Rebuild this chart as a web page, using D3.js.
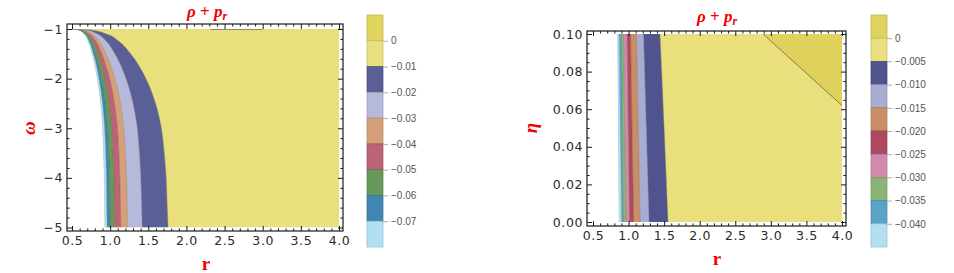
<!DOCTYPE html>
<html><head><meta charset="utf-8">
<script src="https://cdn.jsdelivr.net/npm/d3@7"></script>
<style>body{margin:0;background:#fff}svg{display:block}</style>
</head><body><svg id="c" width="954" height="273"></svg>
<script>
// ---------------- LEFT PANEL: ρ + p_r over (r, ω) ----------------
const leftOmega = [-1, -1.02, -1.1, -1.25, -1.5, -2, -2.5, -3, -3.5, -4, -4.5, -5];
// contour boundaries (r values at each ω), from left (most negative) to right
const leftB0 = [0.5, 0.586, 0.655, 0.711, 0.762, 0.831, 0.874, 0.900, 0.913, 0.921, 0.926, 0.93];
const leftB1 = [0.5, 0.592, 0.666, 0.725, 0.781, 0.854, 0.900, 0.928, 0.942, 0.951, 0.955, 0.96];
const leftB2 = [0.5, 0.600, 0.680, 0.745, 0.805, 0.885, 0.935, 0.965, 0.980, 0.990, 0.995, 1.00];
const leftB3 = [0.5, 0.612, 0.702, 0.774, 0.842, 0.931, 0.987, 1.021, 1.038, 1.049, 1.054, 1.06];
const leftB4 = [0.5, 0.628, 0.730, 0.814, 0.890, 0.993, 1.057, 1.095, 1.114, 1.127, 1.134, 1.14];
const leftB5 = [0.5, 0.646, 0.763, 0.858, 0.945, 1.062, 1.135, 1.179, 1.201, 1.215, 1.223, 1.23];
const leftB6 = [0.5, 0.684, 0.831, 0.951, 1.061, 1.208, 1.300, 1.356, 1.383, 1.402, 1.411, 1.42];
const leftB7 = [0.5, 0.752, 0.954, 1.117, 1.269, 1.470, 1.596, 1.672, 1.710, 1.735, 1.747, 1.76];
const leftZeroLine = [[2.31, -1], [3.0, -1]];
const leftLevels = [0, -0.01, -0.02, -0.03, -0.04, -0.05, -0.06, -0.07];
// colours of bands, top of legend (highest) to bottom
const leftColors = ["#E0D35E", "#E9DF7D", "#5B5F98", "#B7B9DB", "#D4A07A", "#BC6378", "#66985A", "#3F86B3", "#B1E0F3"];
const leftXTicks = [0.5, 1.0, 1.5, 2.0, 2.5, 3.0, 3.5, 4.0];
const leftYTicks = [-1, -2, -3, -4, -5];

// ---------------- RIGHT PANEL: ρ + p_r over (r, η) ----------------
const rightEta = [0, 0.05, 0.1];
const rightB0 = [0.866, 0.855, 0.845];
const rightB1 = [0.901, 0.883, 0.866];
const rightB2 = [0.922, 0.911, 0.901];
const rightB3 = [0.964, 0.946, 0.929];
const rightB4 = [1.013, 0.995, 0.978];
const rightB5 = [1.070, 1.048, 1.027];
const rightB6 = [1.161, 1.136, 1.112];
const rightB7 = [1.288, 1.249, 1.210];
const rightB8 = [1.555, 1.500, 1.442];
const rightZeroContour = [[2.89, 0.1], [4.0, 0.062]];
const rightLevels = [0, -0.005, -0.010, -0.015, -0.020, -0.025, -0.030, -0.035, -0.040];
const rightColors = ["#E0D25E", "#E9DF7D", "#4F548F", "#A9ACD2", "#C98E68", "#AE4A60", "#D08AAB", "#8AB475", "#5AA2C8", "#B3DFF2"];
const rightXTicks = [0.5, 1.0, 1.5, 2.0, 2.5, 3.0, 3.5, 4.0];
const rightYTicks = [0, 0.02, 0.04, 0.06, 0.08, 0.10];

const svg = d3.select("#c");
const RED = "#F20000";

function drawPanel(o) {
  const g = svg.append("g");
  const x = d3.scaleLinear().domain(o.xDomain).range(o.xRange);
  const y = d3.scaleLinear().domain(o.yDomain).range(o.yRange);
  const [fx0, fx1, fy0, fy1] = o.frame;
  const clipId = "clip" + o.id;
  svg.append("clipPath").attr("id", clipId).append("rect")
    .attr("x", x(o.xDomain[0])).attr("y", Math.min(y(o.yDomain[0]), y(o.yDomain[1])))
    .attr("width", x(o.xDomain[1]) - x(o.xDomain[0]))
    .attr("height", Math.abs(y(o.yDomain[1]) - y(o.yDomain[0])));
  const plot = g.append("g").attr("clip-path", `url(#${clipId})`);
  // base region (light yellow)
  plot.append("rect")
    .attr("x", x(o.xDomain[0])).attr("y", Math.min(y(o.yDomain[0]), y(o.yDomain[1])))
    .attr("width", x(o.xDomain[1]) - x(o.xDomain[0]))
    .attr("height", Math.abs(y(o.yDomain[1]) - y(o.yDomain[0])))
    .attr("fill", o.baseColor);
  if (o.extra) o.extra(plot, x, y);
  const B = o.bounds;
  const rows = o.ys.map((v, i) => ({v, i}));
  const mk = (a, b) => d3.area().curve(d3.curveMonotoneY)
      .y(d => y(d.v)).x0(d => x(a(d.i))).x1(d => x(b(d.i)));
  // white region left of first boundary
  plot.append("path").datum(rows)
    .attr("d", mk(() => o.xDomain[0], i => B[0][i]))
    .attr("fill", "#fff");
  for (let k = 0; k < B.length - 1; k++) {
    plot.append("path").datum(rows)
      .attr("d", mk(i => B[k][i], i => B[k + 1][i]))
      .attr("fill", o.bandColors[k]);
  }
  // contour lines
  const line = d3.line().curve(d3.curveMonotoneY);
  B.forEach((b, k) => {
    plot.append("path")
      .attr("d", line(o.ys.map((v, i) => [x(b[i]), y(v)])))
      .attr("fill", "none")
      .attr("stroke", k === B.length - 1 ? "#9a9360" : d3.color(o.bandColors[Math.max(0,k-1)]).darker(0.8))
      .attr("stroke-width", 0.6).attr("stroke-opacity", k === 0 ? 0.3 : 0.7);
  });
  if (o.extraTop) o.extraTop(plot, x, y);

  // frame
  g.append("rect").attr("x", fx0).attr("y", fy0).attr("width", fx1 - fx0).attr("height", fy1 - fy0)
    .attr("fill", "none").attr("stroke", "#1a1a1a").attr("stroke-width", 1.2);

  const majorLen = 5, minorLen = 2.6;
  const styleAxis = sel => {
    sel.select(".domain").remove();
    sel.selectAll("line").attr("stroke", "#1a1a1a").attr("stroke-width", 1);
    sel.selectAll("text").attr("font-family", "DejaVu Sans, sans-serif")
      .attr("font-size", 12.5).attr("fill", "#2a2a2a").attr("letter-spacing", 0.6);
  };
  const xMinor = d3.range(Math.round(o.xDomain[0] / o.xMinor), Math.round(o.xDomain[1] / o.xMinor) + 1)
    .map(k => +(k * o.xMinor).toFixed(4)).filter(v => !o.xTicks.some(t => Math.abs(t - v) < 1e-6));
  const yLo = Math.min(...o.yDomain), yHi = Math.max(...o.yDomain);
  const yMinor = d3.range(Math.round(yLo / o.yMinor), Math.round(yHi / o.yMinor) + 1)
    .map(k => +(k * o.yMinor).toFixed(4)).filter(v => !o.yTicks.some(t => Math.abs(t - v) < 1e-6));

  // bottom
  g.append("g").attr("transform", `translate(0,${fy1})`)
    .call(d3.axisBottom(x).tickValues(o.xTicks).tickSize(-majorLen).tickPadding(5).tickFormat(d3.format(".1f")))
    .call(styleAxis);
  g.append("g").attr("transform", `translate(0,${fy1})`)
    .call(d3.axisBottom(x).tickValues(xMinor).tickSize(-minorLen).tickFormat(""))
    .call(styleAxis);
  // top
  g.append("g").attr("transform", `translate(0,${fy0})`)
    .call(d3.axisTop(x).tickValues(o.xTicks).tickSize(-majorLen).tickFormat("")).call(styleAxis);
  g.append("g").attr("transform", `translate(0,${fy0})`)
    .call(d3.axisTop(x).tickValues(xMinor).tickSize(-minorLen).tickFormat("")).call(styleAxis);
  // left
  g.append("g").attr("transform", `translate(${fx0},0)`)
    .call(d3.axisLeft(y).tickValues(o.yTicks).tickSize(-majorLen).tickPadding(4).tickFormat(o.yFormat))
    .call(styleAxis);
  g.append("g").attr("transform", `translate(${fx0},0)`)
    .call(d3.axisLeft(y).tickValues(yMinor).tickSize(-minorLen).tickFormat("")).call(styleAxis);
  // right
  g.append("g").attr("transform", `translate(${fx1},0)`)
    .call(d3.axisRight(y).tickValues(o.yTicks).tickSize(-majorLen).tickFormat("")).call(styleAxis);
  g.append("g").attr("transform", `translate(${fx1},0)`)
    .call(d3.axisRight(y).tickValues(yMinor).tickSize(-minorLen).tickFormat("")).call(styleAxis);

  // title
  const t = g.append("text").attr("x", o.titleX).attr("y", o.titleY).attr("text-anchor", "middle")
    .attr("font-family", "Liberation Serif, serif").attr("font-weight", "bold").attr("font-size", 17)
    .attr("fill", RED);
  t.append("tspan").attr("font-style", "italic").text("ρ");
  t.append("tspan").text(" + ");
  t.append("tspan").attr("font-style", "italic").text("p");
  t.append("tspan").attr("font-style", "italic").attr("font-size", 12).attr("dy", 3).text("r");
  // x label
  g.append("text").attr("x", o.xLabelX).attr("y", o.xLabelY).attr("text-anchor", "middle")
    .attr("font-family", "Liberation Serif, serif").attr("font-weight", "bold").attr("font-size", 19)
    .attr("fill", RED).text("r");
  // y label
  g.append("text").attr("transform", `translate(${o.yLabelX},${o.yLabelY}) rotate(-90)`)
    .attr("text-anchor", "middle").attr("dominant-baseline", "central")
    .attr("font-family", "Liberation Serif, serif").attr("font-weight", "bold").attr("font-style", "italic")
    .attr("font-size", 19).attr("fill", RED).text(o.yLabel);

  // colour bar
  const cb = svg.append("g");
  const cy = d3.scaleLinear().domain(o.cbDomain).range([15, 247]);
  const edges = [o.cbDomain[0], ...o.levels, o.cbDomain[1]];
  for (let k = 0; k < edges.length - 1; k++) {
    cb.append("rect").attr("x", o.cbX).attr("y", cy(edges[k])).attr("width", 16)
      .attr("height", cy(edges[k + 1]) - cy(edges[k]))
      .attr("fill", o.cbColors[k]).attr("stroke", d3.color(o.cbColors[k]).darker(0.5))
      .attr("stroke-width", 0.7);
  }
  cb.append("g").attr("transform", `translate(${o.cbX + 16},0)`)
    .call(d3.axisRight(cy).tickValues(o.levels).tickSize(5).tickPadding(3).tickFormat(o.cbFormat))
    .call(s => {
      s.select(".domain").remove();
      s.selectAll("line").attr("stroke", "#aaa");
      s.selectAll("text").attr("font-family", "Liberation Sans, Arial, sans-serif")
        .attr("font-size", 10).attr("fill", "#555");
    });
}

drawPanel({
  id: "L", xDomain: [0.5, 4.0], xRange: [72, 339], yDomain: [-1, -5], yRange: [29, 227.5],
  frame: [67, 343, 24, 231],
  ys: leftOmega, bounds: [leftB0, leftB1, leftB2, leftB3, leftB4, leftB5, leftB6, leftB7],
  bandColors: [leftColors[8], leftColors[7], leftColors[6], leftColors[5], leftColors[4], leftColors[3], leftColors[2]],
  baseColor: leftColors[1],
  extraTop: (p, x, y) => {
    p.append("path").attr("d", d3.line()(leftZeroLine.map(d => [x(d[0]), y(d[1]) + 0.5])))
      .attr("stroke", "#8f8a6a").attr("stroke-width", 1.2).attr("fill", "none");
  },
  xTicks: leftXTicks, xMinor: 0.1, yTicks: leftYTicks, yMinor: 0.2,
  yFormat: d3.format("d"),
  titleX: 207, titleY: 17, xLabelX: 206, xLabelY: 270, yLabelX: 28, yLabelY: 128, yLabel: "ω",
  cbX: 367, cbDomain: [0.01, -0.08], levels: leftLevels, cbColors: leftColors,
  cbFormat: d => d === 0 ? "0" : d3.format(".2f")(d)
});

drawPanel({
  id: "R", xDomain: [0.5, 4.0], xRange: [593, 842], yDomain: [0, 0.1], yRange: [222, 34],
  frame: [587, 846, 31, 226],
  ys: rightEta, bounds: [rightB0, rightB1, rightB2, rightB3, rightB4, rightB5, rightB6, rightB7, rightB8],
  bandColors: [rightColors[9], rightColors[8], rightColors[7], rightColors[6], rightColors[5], rightColors[4], rightColors[3], rightColors[2]],
  baseColor: rightColors[1],
  extra: (p, x, y) => {
    const poly = [...rightZeroContour, [4.0, 0.1]];
    p.append("path").attr("d", d3.line()(poly.map(d => [x(d[0]), y(d[1])])) + "Z")
      .attr("fill", "#DFD15C");
    p.append("path").attr("d", d3.line()(rightZeroContour.map(d => [x(d[0]), y(d[1])])))
      .attr("stroke", "#7d7748").attr("stroke-width", 0.9).attr("fill", "none");
  },
  xTicks: rightXTicks, xMinor: 0.1, yTicks: rightYTicks, yMinor: 0.005,
  yFormat: d3.format(".2f"),
  titleX: 717, titleY: 22, xLabelX: 717, xLabelY: 265, yLabelX: 530, yLabelY: 128, yLabel: "η",
  cbX: 871, cbDomain: [0.005, -0.045], levels: rightLevels, cbColors: rightColors,
  cbFormat: d => d === 0 ? "0" : d3.format(".3f")(d)
});
</script></body></html>
